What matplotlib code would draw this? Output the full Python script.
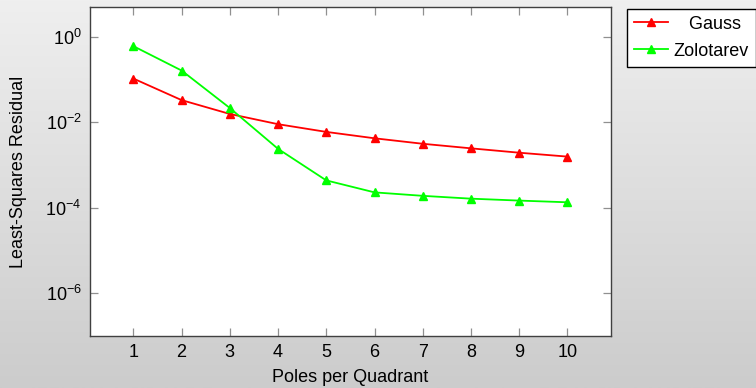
import numpy as np
import matplotlib
matplotlib.use("Agg")
import matplotlib.pyplot as plt
from matplotlib.colors import LinearSegmentedColormap

poles = [1, 2, 3, 4, 5, 6, 7, 8, 9, 10]
gauss = [0.107, 0.0334, 0.0158, 0.0091, 0.0060, 0.00425, 0.00316, 0.00247, 0.00195, 0.00158]
zolotarev = [0.616, 0.165, 0.0218, 0.0024, 4.37e-4, 2.29e-4, 1.9e-4, 1.63e-4, 1.47e-4, 1.34e-4]
y_ticks = [1e-6, 1e-4, 1e-2, 1e0]
y_tick_labels = [r"$10^{-6}$", r"$10^{-4}$", r"$10^{-2}$", r"$10^{0}$"]

plt.rcParams["font.family"] = ["Liberation Sans", "DejaVu Sans"]
plt.rcParams["mathtext.fontset"] = "custom"
plt.rcParams["mathtext.rm"] = "Liberation Sans"
plt.rcParams["mathtext.it"] = "Liberation Sans:italic"
plt.rcParams["mathtext.bf"] = "Liberation Sans:bold"

fig = plt.figure(figsize=(7.56, 3.88), dpi=100)

# Серый градиентный фон
bg = fig.add_axes([0, 0, 1, 1], zorder=-10)
cmap = LinearSegmentedColormap.from_list("bg", ["#efefef", "#cccccc"])
bg.imshow(np.linspace(0, 1, 256).reshape(-1, 1), aspect="auto", cmap=cmap,
          extent=[0, 1, 0, 1])
bg.set_axis_off()

ax = fig.add_axes([0.119, 0.135, 0.689, 0.846])
ax.set_facecolor("white")

ax.plot(poles, gauss, color="#ff0000", marker="^", markersize=5.5, linewidth=1.3, label="   Gauss")
ax.plot(poles, zolotarev, color="#00ff00", marker="^", markersize=5.5, linewidth=1.3, label="Zolotarev")

ax.set_yscale("log")
ax.set_xlim(0.1, 10.9)
ax.set_ylim(1e-7, 5)
ax.set_xticks(poles)
ax.set_yticks(y_ticks)
ax.set_yticklabels(y_tick_labels)
ax.yaxis.set_minor_locator(matplotlib.ticker.NullLocator())

ax.tick_params(direction="in", length=5.5, width=0.9, color="#909090",
               top=True, right=True, labelsize=13, pad=6)
for spine in ax.spines.values():
    spine.set_linewidth(1.0)
    spine.set_color("#404040")

ax.set_xlabel("Poles per Quadrant", fontsize=13, labelpad=6)
ax.set_ylabel("Least-Squares Residual", fontsize=13, labelpad=13)

leg = ax.legend(loc="upper left", bbox_to_anchor=(0.829, 0.978),
                bbox_transform=fig.transFigure, fontsize=13, frameon=True,
                fancybox=False, edgecolor="black", framealpha=1,
                handlelength=1.9, handletextpad=0.3, borderpad=0.4,
                labelspacing=0.55, borderaxespad=0)
leg.get_frame().set_linewidth(1.0)

fig.savefig("out.png", dpi=100)
plt.close(fig)
